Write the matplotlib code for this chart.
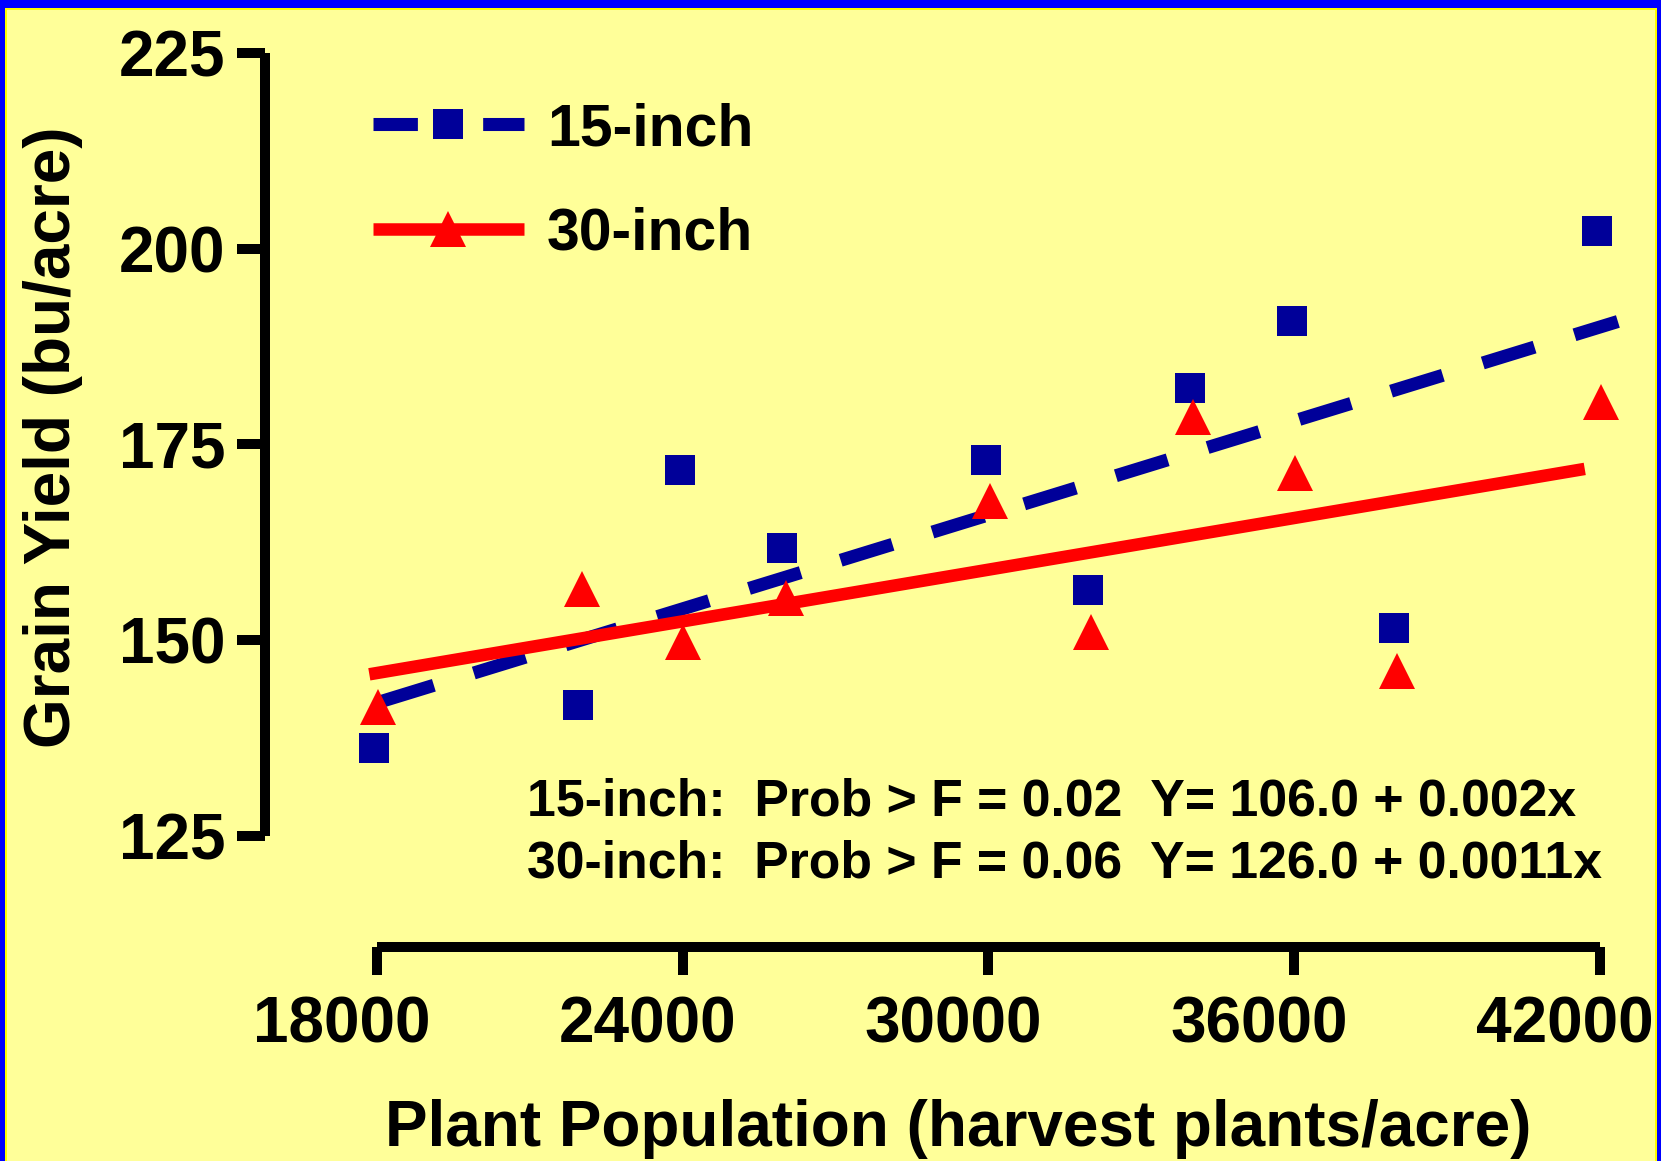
import matplotlib
matplotlib.use("Agg")
import matplotlib.pyplot as plt
from matplotlib.lines import Line2D
from matplotlib.patches import Rectangle
from matplotlib.transforms import ScaledTranslation

plt.rcParams['font.family'] = ['Liberation Sans', 'DejaVu Sans']
plt.rcParams['font.weight'] = 'bold'

# Observed yields by harvest population
pop_15 = [17950, 21950, 23950, 25950, 29950, 31950, 33950, 35950, 37950, 41950]
yield_15 = [136.2, 141.7, 171.7, 161.8, 173.0, 156.4, 182.2, 190.8, 151.6, 202.3]
pop_30 = [18020, 22020, 24000, 26030, 30030, 32010, 34010, 36010, 38020, 42020]
yield_30 = [141.5, 156.5, 149.8, 155.4, 167.8, 151.1, 178.5, 171.4, 146.0, 180.4]

# Linear regression fits (intercept, slope) and the population span each is drawn over
fit_15 = (106.0, 0.002)
fit_30 = (126.0, 0.0011)
fit_15_span = [18100, 42350]
fit_30_span = [17850, 41700]

x_ticks = [18000, 24000, 30000, 36000, 42000]
y_ticks = [125, 150, 175, 200, 225]

series_labels = ["15-inch", "30-inch"]
stats_lines = ["15-inch:  Prob > F = 0.02  Y= 106.0 + 0.002x",
               "30-inch:  Prob > F = 0.06  Y= 126.0 + 0.0011x"]

BG = "#FFFF99"
NAVY = "#000099"
RED = "#FF0000"

W, H = 1661, 1161
fig = plt.figure(figsize=(W / 100, H / 100), dpi=100, facecolor=BG)

# frame around the slide
def px_rect(x0, y0, x1, y1, color):
    fig.patches.append(Rectangle((x0 / W, 1 - y1 / H), (x1 - x0) / W, (y1 - y0) / H,
                                 transform=fig.transFigure, facecolor=color,
                                 edgecolor="none", zorder=-5))

px_rect(0, 0, W, 10, "#FFFF00")
px_rect(0, 0, 7, H, "#FFFF00")
px_rect(1655, 0, W, H, "#FFFF00")
px_rect(0, 0, W, 8, "#0000FF")
px_rect(0, 0, 5, H, "#0000FF")
px_rect(1657, 0, W, H, "#0000FF")

ax = fig.add_axes([326 / W, 1 - 875 / H, 1325 / W, (875 - 37.3) / H])
ax.set_facecolor("none")
ax.set_xlim(17000, 43000)
ax.set_ylim(120, 227)

def fit_line(fit, span):
    a, b = fit
    return span, [a + b * x for x in span]

fx, fy = fit_line(fit_15, fit_15_span)
ax.plot(fx, fy, color=NAVY, lw=9.4, linestyle=(0, (4.15, 3.2)),
        solid_capstyle="butt", dash_capstyle="butt", zorder=2)
fx, fy = fit_line(fit_30, fit_30_span)
ax.plot(fx, fy, color=RED, lw=9.0, solid_capstyle="butt", zorder=2)

ax.plot(pop_15, yield_15, linestyle="none", marker="s", ms=22.3, mew=0,
        color=NAVY, zorder=3, clip_on=False)
ax.plot(pop_30, yield_30, linestyle="none", marker="^", ms=26, mew=0,
        color=RED, zorder=3, clip_on=False)

# detached axis lines
for s in ("top", "right"):
    ax.spines[s].set_visible(False)
ax.spines["left"].set_position(("data", 15800))
ax.spines["left"].set_bounds(125, 225)
ax.spines["bottom"].set_position(("data", 110.8))
ax.spines["bottom"].set_bounds(18000, 42000)
for s in ("left", "bottom"):
    ax.spines[s].set_linewidth(7.2)
    ax.spines[s].set_capstyle("butt")

ax.set_xticks(x_ticks)
ax.set_yticks(y_ticks)
ax.set_xticklabels([str(v) for v in x_ticks])
ax.set_yticklabels([str(v) for v in y_ticks])
ax.tick_params(axis="both", length=20, width=7.2, direction="out",
               labelsize=46, color="black")
ax.tick_params(axis="y", pad=8.6)
ax.tick_params(axis="x", pad=15)

shift = ScaledTranslation(-35 / 100, 0, fig.dpi_scale_trans)
for lbl in ax.get_xticklabels():
    lbl.set_transform(lbl.get_transform() + shift)

fig.text(53 / W, 1 - 437 / H, "Grain Yield (bu/acre)", rotation=90,
         ha="center", va="center", fontsize=46, fontweight="bold")
fig.text(958 / W, 1 - 1146 / H, "Plant Population (harvest plants/acre)",
         ha="center", va="baseline", fontsize=46, fontweight="bold")

fig.text(527 / W, 1 - 815.7 / H, stats_lines[0], ha="left", va="baseline",
         fontsize=37.3, fontweight="bold")
fig.text(527 / W, 1 - 878 / H, stats_lines[1], ha="left", va="baseline",
         fontsize=37.3, fontweight="bold")

h15 = Line2D([], [], color=NAVY, lw=9.4, linestyle=(0, (3.4, 5.0)),
             dash_capstyle="butt", marker="s", ms=22.3, mew=0)
h30 = Line2D([], [], color=RED, lw=9.0, solid_capstyle="butt",
             marker="^", ms=26, mew=0)
ax.legend([h15, h30], series_labels, loc="upper left",
          bbox_to_anchor=(373 / W, 1 - 102 / H), bbox_transform=fig.transFigure,
          frameon=False, handlelength=2.55, handletextpad=0.4,
          labelspacing=0.84, borderpad=0, borderaxespad=0, numpoints=1,
          prop={"weight": "bold", "size": 42.5})

fig.savefig("out.png", dpi=100, facecolor=BG)
